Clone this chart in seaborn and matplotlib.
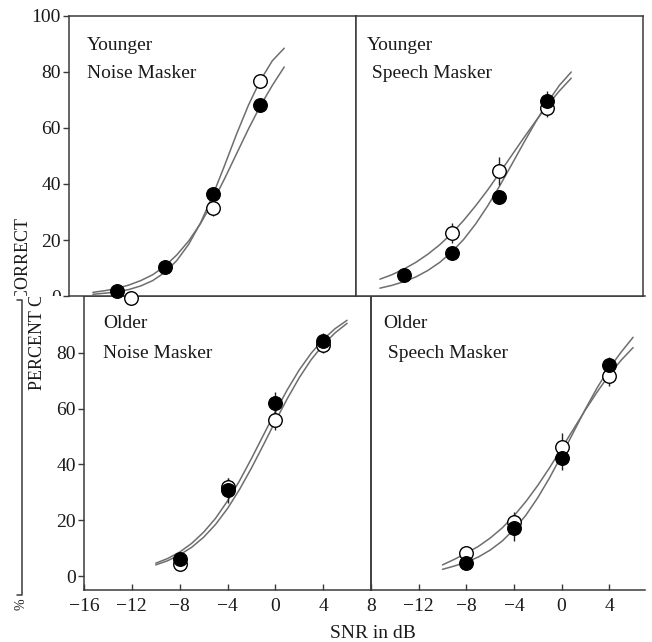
import matplotlib
matplotlib.use("Agg")
import matplotlib.pyplot as plt
from matplotlib.lines import Line2D
from matplotlib.transforms import Bbox, TransformedBbox
import seaborn as sns

sns.set_theme(style="white")
plt.rcParams['font.family'] = ['Liberation Serif', 'DejaVu Serif']
plt.rcParams['axes.unicode_minus'] = True

# fitted curves at 1 dB steps
snr_top = [-14, -13, -12, -11, -10, -9, -8, -7, -6, -5, -4, -3, -2, -1, 0, 1, 2]
snr_bottom = [-10, -9, -8, -7, -6, -5, -4, -3, -2, -1, 0, 1, 2, 3, 4, 5, 6]

yn_curve_open = [0.6, 1.0, 1.5, 2.3, 3.6, 5.5, 8.4, 12.6, 18.4, 26.1, 35.7, 46.5, 57.7, 68.1, 77.0, 84.0, 88.5]
yn_curve_filled = [1.3, 1.9, 2.7, 3.9, 5.5, 7.6, 10.6, 14.6, 19.6, 25.9, 33.4, 41.8, 50.7, 59.6, 67.9, 75.2, 81.8]
ys_curve_open = [6.0, 7.6, 9.6, 12.0, 14.9, 18.3, 22.3, 27.0, 32.2, 37.8, 43.9, 50.1, 56.3, 62.3, 68.0, 73.2, 77.8]
ys_curve_filled = [2.8, 3.8, 5.1, 6.8, 9.1, 12.0, 15.7, 20.2, 25.7, 32.1, 39.2, 46.8, 54.5, 62.0, 69.0, 75.2, 80.0]
on_curve_a = [4.6, 6.3, 8.6, 11.7, 15.7, 20.7, 26.9, 34.1, 42.1, 50.5, 58.9, 66.8, 73.9, 79.9, 84.8, 88.7, 91.7]
on_curve_b = [4.0, 5.5, 7.6, 10.3, 13.9, 18.5, 24.2, 31.0, 38.7, 47.0, 55.5, 63.6, 71.1, 77.6, 82.9, 87.2, 90.6]
os_curve_open = [4.0, 6.0, 8.2, 10.6, 13.6, 17.2, 21.6, 26.7, 32.5, 38.9, 45.8, 52.7, 59.6, 66.1, 72.1, 77.4, 81.9]
os_curve_filled = [2.4, 3.6, 5.0, 6.8, 9.3, 12.5, 16.7, 21.8, 28.1, 35.3, 43.3, 51.6, 59.9, 67.6, 74.5, 80.3, 85.6]

# data points (percent correct) with error bars
yn_x_filled = [-12, -8, -4, 0]
yn_y_filled = [1.8, 10.4, 36.6, 68.1]
yn_e_filled = [1.0, 1.5, 2.5, 2.5]
yn_x_open = [-10.8, -4, 0]
yn_y_open = [-0.8, 31.5, 76.7]
yn_e_open = [0.5, 3.0, 2.5]

ys_x_filled = [-12, -8, -4, 0]
ys_y_filled = [7.5, 15.4, 35.5, 69.5]
ys_e_filled = [2.5, 2.5, 2.5, 3.7]
ys_x_open = [-8, -4, 0]
ys_y_open = [22.6, 44.8, 67.0]
ys_e_open = [3.6, 5.0, 3.0]

old_x = [-8, -4, 0, 4]
on_y_filled = [6.0, 30.8, 61.9, 84.2]
on_e_filled = [1.5, 4.5, 4.0, 3.0]
on_y_open = [4.3, 32.0, 55.9, 83.0]
on_e_open = [1.5, 3.0, 3.5, 3.0]

os_y_filled = [4.8, 17.2, 42.4, 75.6]
os_e_filled = [1.5, 4.5, 4.5, 3.0]
os_y_open = [8.4, 19.5, 46.4, 71.7]
os_e_open = [1.5, 3.5, 5.0, 3.5]

W, H = 652, 642
fig = plt.figure(figsize=(W / 100, H / 100), dpi=100)


def px_rect(x0, y0, x1, y1):
    return [x0 / W, 1 - y1 / H, (x1 - x0) / W, (y1 - y0) / H]


SPINE = '#3a3a3a'
CURVE = '#6e6e6e'
TXT = '#1a1a1a'

ax_tl = fig.add_axes(px_rect(69, 16, 356, 296), zorder=3)
ax_tr = fig.add_axes(px_rect(356, 16, 643, 296), zorder=3)
ax_bl = fig.add_axes(px_rect(84, 296, 371, 590), zorder=1)
ax_br = fig.add_axes(px_rect(371, 296, 645, 590), zorder=1)


def draw_panel(ax, xc, c1, c2, xf, yf, ef, xo, yo, eo, clip=True):
    sns.lineplot(x=xc, y=c1, ax=ax, color=CURVE, lw=1.1, zorder=2)
    sns.lineplot(x=xc, y=c2, ax=ax, color=CURVE, lw=1.1, zorder=2)
    ax.errorbar(xf, yf, yerr=ef, fmt='none', ecolor='#222', elinewidth=1, zorder=3, clip_on=clip)
    ax.errorbar(xo, yo, yerr=eo, fmt='none', ecolor='#222', elinewidth=1, zorder=3, clip_on=clip)
    sns.scatterplot(x=xo, y=yo, ax=ax, s=95, color='white', edgecolor='black',
                    linewidth=1.0, zorder=4, clip_on=clip)
    sns.scatterplot(x=xf, y=yf, ax=ax, s=95, color='black', edgecolor='black',
                    linewidth=1.0, zorder=5, clip_on=clip)
    ax.set_xlabel('')
    ax.set_ylabel('')
    for s in ax.spines.values():
        s.set_color(SPINE)
        s.set_linewidth(1.1)


draw_panel(ax_tl, snr_top, yn_curve_open, yn_curve_filled,
           yn_x_filled, yn_y_filled, yn_e_filled, yn_x_open, yn_y_open, yn_e_open, clip=False)
draw_panel(ax_tr, snr_top, ys_curve_open, ys_curve_filled,
           ys_x_filled, ys_y_filled, ys_e_filled, ys_x_open, ys_y_open, ys_e_open)
draw_panel(ax_bl, snr_bottom, on_curve_a, on_curve_b,
           old_x, on_y_filled, on_e_filled, old_x, on_y_open, on_e_open)
draw_panel(ax_br, snr_bottom, os_curve_open, os_curve_filled,
           old_x, os_y_filled, os_e_filled, old_x, os_y_open, os_e_open)

for ax in (ax_tl, ax_tr):
    ax.set_xlim(-16, 8)
    ax.set_ylim(0, 100)
    ax.set_xticks([])
ax_tr.set_yticks([])
ax_tl.set_yticks([0, 20, 40, 60, 80, 100])
ax_tl.tick_params(axis='y', direction='out', length=4, width=1, color=SPINE,
                  labelsize=14, labelcolor=TXT, pad=2, left=True)

for ax in (ax_bl, ax_br):
    ax.set_ylim(-5, 100.4)
    ax.patch.set_alpha(0)
ax_bl.set_xlim(-16, 8)
ax_br.set_xlim(-16, 7)
ax_br.spines['right'].set_visible(False)
ax_bl.set_xticks([-16, -12, -8, -4, 0, 4, 8])
ax_br.set_xticks([-12, -8, -4, 0, 4])
ax_bl.set_yticks([0, 20, 40, 60, 80])
ax_br.set_yticks([])
ax_bl.tick_params(axis='y', direction='out', length=4, width=1, color=SPINE,
                  labelsize=14, labelcolor=TXT, pad=2, left=True)
for ax in (ax_bl, ax_br):
    ax.tick_params(axis='x', direction='in', length=4, width=1, color=SPINE,
                   labelsize=14, labelcolor=TXT, pad=6, bottom=True)

# the top-left "0" is half hidden under the lower row
upper_clip = TransformedBbox(Bbox([[0, 1 - 296 / H], [1, 1]]), fig.transFigure)
lower_clip = TransformedBbox(Bbox([[0, 0], [1, 1 - 297 / H]]), fig.transFigure)
zero_lab = ax_tl.get_yticklabels()[0]
zero_lab.set_clip_box(upper_clip)
zero_lab.set_clip_on(True)

# panel captions
captions = [
    (ax_tl, 0.063, "Younger", "Noise Masker", 0.896, 0.796),
    (ax_tr, 0.038, "Younger", " Speech Masker", 0.896, 0.796),
    (ax_bl, 0.066, "Older", "Noise Masker", 0.905, 0.806),
    (ax_br, 0.044, "Older", " Speech Masker", 0.905, 0.806),
]
for ax, x, t1, t2, y1, y2 in captions:
    ax.text(x, y1, t1, transform=ax.transAxes, ha='left', va='center', fontsize=14, color=TXT)
    ax.text(x, y2, t2, transform=ax.transAxes, ha='left', va='center', fontsize=14, color=TXT)

# y label, pieced together from two overlapping copies
t_up = fig.text(23.5 / W, 1 - 385 / H, "PERCENT CORRECT", rotation=90, ha='center', va='bottom',
                fontsize=13, color=TXT)
t_up.set_clip_box(upper_clip)
t_up.set_clip_on(True)
t_lo = fig.text(38 / W, 1 - 390 / H, "PERCENT CORRECT", rotation=90, ha='center', va='bottom',
                fontsize=13, color=TXT)
t_lo.set_clip_box(lower_clip)
t_lo.set_clip_on(True)

fig.text(373 / W, 1 - 633 / H, "SNR in dB", ha='center', va='center', fontsize=14, color=TXT)

# left bracket and its stray symbol
fig.add_artist(Line2D([17 / W, 22 / W, 22 / W, 17 / W],
                      [1 - 300 / H, 1 - 300 / H, 1 - 595 / H, 1 - 595 / H],
                      transform=fig.transFigure, color=SPINE, lw=1.1))
fig.text(21 / W, 1 - 604 / H, "%", rotation=90, ha='center', va='center', fontsize=10, color=TXT)

fig.savefig("out.png", dpi=100, facecolor='white')
